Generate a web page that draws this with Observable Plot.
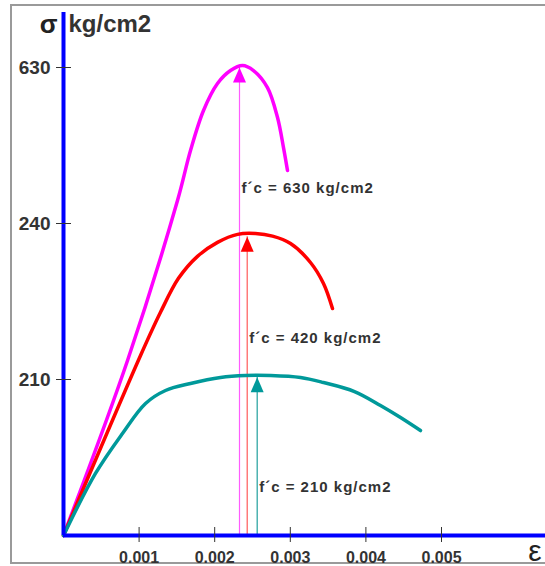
<!DOCTYPE html>
<html>
<head>
<meta charset="utf-8">
<script src="https://cdn.jsdelivr.net/npm/d3@7"></script>
<script src="https://cdn.jsdelivr.net/npm/@observablehq/plot@0.6"></script>
<style>
  body { margin: 0; background: #fff; }
  #wrap { position: relative; width: 545px; height: 566px; overflow: hidden; }
  #frame { position: absolute; left: 10px; top: 4px; width: 600px; height: 560px;
           border: 2px solid #9a9a9a; border-right: none; box-sizing: border-box; }
  #wrap svg { position: absolute; left: 0; top: 0; }
</style>
</head>
<body>
<div id="wrap"><div id="frame"></div></div>
<script>
// ---- tick values and labels ----
const strainTicks = [0.001, 0.002, 0.003, 0.004, 0.005];
const strainTickLabels = ["0.001", "0.002", "0.003", "0.004", "0.005"];
const stressTicks = [210, 420, 630];
const stressTickLabels = ["210", "240", "630"];

// ---- stress-strain curves (strain, stress kg/cm2) ----
const strain630 = [0, 0.000847, 0.001508, 0.00168, 0.001852, 0.002037, 0.002209, 0.002368, 0.002513, 0.002698, 0.002831, 0.00291, 0.002963];
const stress630 = [0, 235.6, 450.9, 518.2, 572.1, 608.4, 625.9, 632.6, 625.9, 603.0, 562.6, 522.2, 491.3];

const strain420 = [0, 0.001019, 0.001283, 0.001521, 0.001772, 0.002037, 0.002302, 0.002540, 0.002765, 0.003003, 0.003267, 0.003439, 0.003558];
const stress420 = [0, 242.3, 300.5, 346.2, 375.8, 394.6, 405.4, 406.5, 403.0, 393.0, 367.5, 339.2, 305.5];

const strain210 = [0, 0.000423, 0.00078, 0.001085, 0.001349, 0.001680, 0.002077, 0.002407, 0.002738, 0.003135, 0.003439, 0.003849, 0.004193, 0.004458, 0.004722];
const stress210 = [0, 83.5, 137.3, 177.7, 195.2, 204.6, 212.7, 215.4, 215.4, 212.7, 205.9, 193.8, 175.0, 158.8, 141.3];

// ---- peak markers and annotations ----
const seriesNames = ["630", "420", "210"];
const peakStrain = [0.002328, 0.00243, 0.002562];
const peakStress = [630, 402, 213];
const labelTexts = ["f´c = 630 kg/cm2", "f´c = 420 kg/cm2", "f´c = 210 kg/cm2"];
const labelStress = [468, 265, 65];

// ---- build marks ----
const curveSets = [[strain630, stress630], [strain420, stress420], [strain210, stress210]];
const curveColors = ["#ff00ff", "#ff0000", "#00999a"];
const ruleColors = ["#ff5cff", "#ff5a5a", "#1f9f9c"];

const marks = [];
seriesNames.forEach((name, i) => {
  const peak = [{strain: peakStrain[i], stress: peakStress[i]}];
  marks.push(Plot.ruleX(peak, {x: "strain", y1: 0, y2: "stress", stroke: ruleColors[i], strokeWidth: 1.2}));
});
seriesNames.forEach((name, i) => {
  const [xs, ys] = curveSets[i];
  const rows = xs.map((x, j) => ({strain: x, stress: ys[j]}));
  marks.push(Plot.line(rows, {x: "strain", y: "stress", stroke: curveColors[i], strokeWidth: 3.5, curve: "catmull-rom"}));
});
seriesNames.forEach((name, i) => {
  const peak = [{strain: peakStrain[i], stress: peakStress[i], label: labelTexts[i], ly: labelStress[i]}];
  marks.push(Plot.vector(peak, {x: "strain", y: "stress", shape: "spike", anchor: "end", length: 15, r: 6.5, fill: curveColors[i], stroke: "none"}));
  marks.push(Plot.text(peak, {x: "strain", y: "ly", text: "label", textAnchor: "start", dx: 2, fontSize: 15, fontWeight: "bold", fill: "#333"}));
});

const plot = Plot.plot({
  width: 545,
  height: 566,
  marginTop: 12,
  marginLeft: 63,
  marginBottom: 31,
  marginRight: 0,
  style: {background: "transparent", fontFamily: "'Liberation Sans', Arial, sans-serif"},
  x: {domain: [0, 0.005], range: [63, 441]},
  y: {domain: [0, 630], range: [535, 67]},
  marks: [
    ...marks,
    Plot.ruleX([0], {stroke: "#0000ff", strokeWidth: 4}),
    Plot.ruleY([0], {stroke: "#0000ff", strokeWidth: 4}),
    Plot.axisX({ticks: strainTicks, tickFormat: d => strainTickLabels[strainTicks.indexOf(d)], tickSize: 15, dy: -8, tickPadding: 9,
                fontSize: 16, fontWeight: "bold", color: "#333", label: null}),
    Plot.axisY({ticks: stressTicks, tickFormat: d => stressTickLabels[stressTicks.indexOf(d)], tickSize: 15, dx: 8, tickPadding: 6,
                fontSize: 19, fontWeight: "bold", color: "#333", label: null}),
    Plot.text(["σ"], {frameAnchor: "top-left", dx: -6, dy: 20, textAnchor: "end", lineAnchor: "bottom", fontSize: 26, fontWeight: "bold", fill: "#222"}),
    Plot.text(["kg/cm2"], {frameAnchor: "top-left", dx: 5, dy: 19, textAnchor: "start", lineAnchor: "bottom", fontSize: 24, fontWeight: "bold", fill: "#333"}),
    Plot.text(["ε"], {frameAnchor: "bottom-right", dx: -4, dy: 25, textAnchor: "end", lineAnchor: "bottom", fontSize: 30, fill: "#222"})
  ]
});

d3.select(plot).selectAll("text")
  .filter(function () { return this.textContent.startsWith("f´c"); })
  .style("letter-spacing", "1px");

document.getElementById("wrap").appendChild(plot);
</script>
</body>
</html>
